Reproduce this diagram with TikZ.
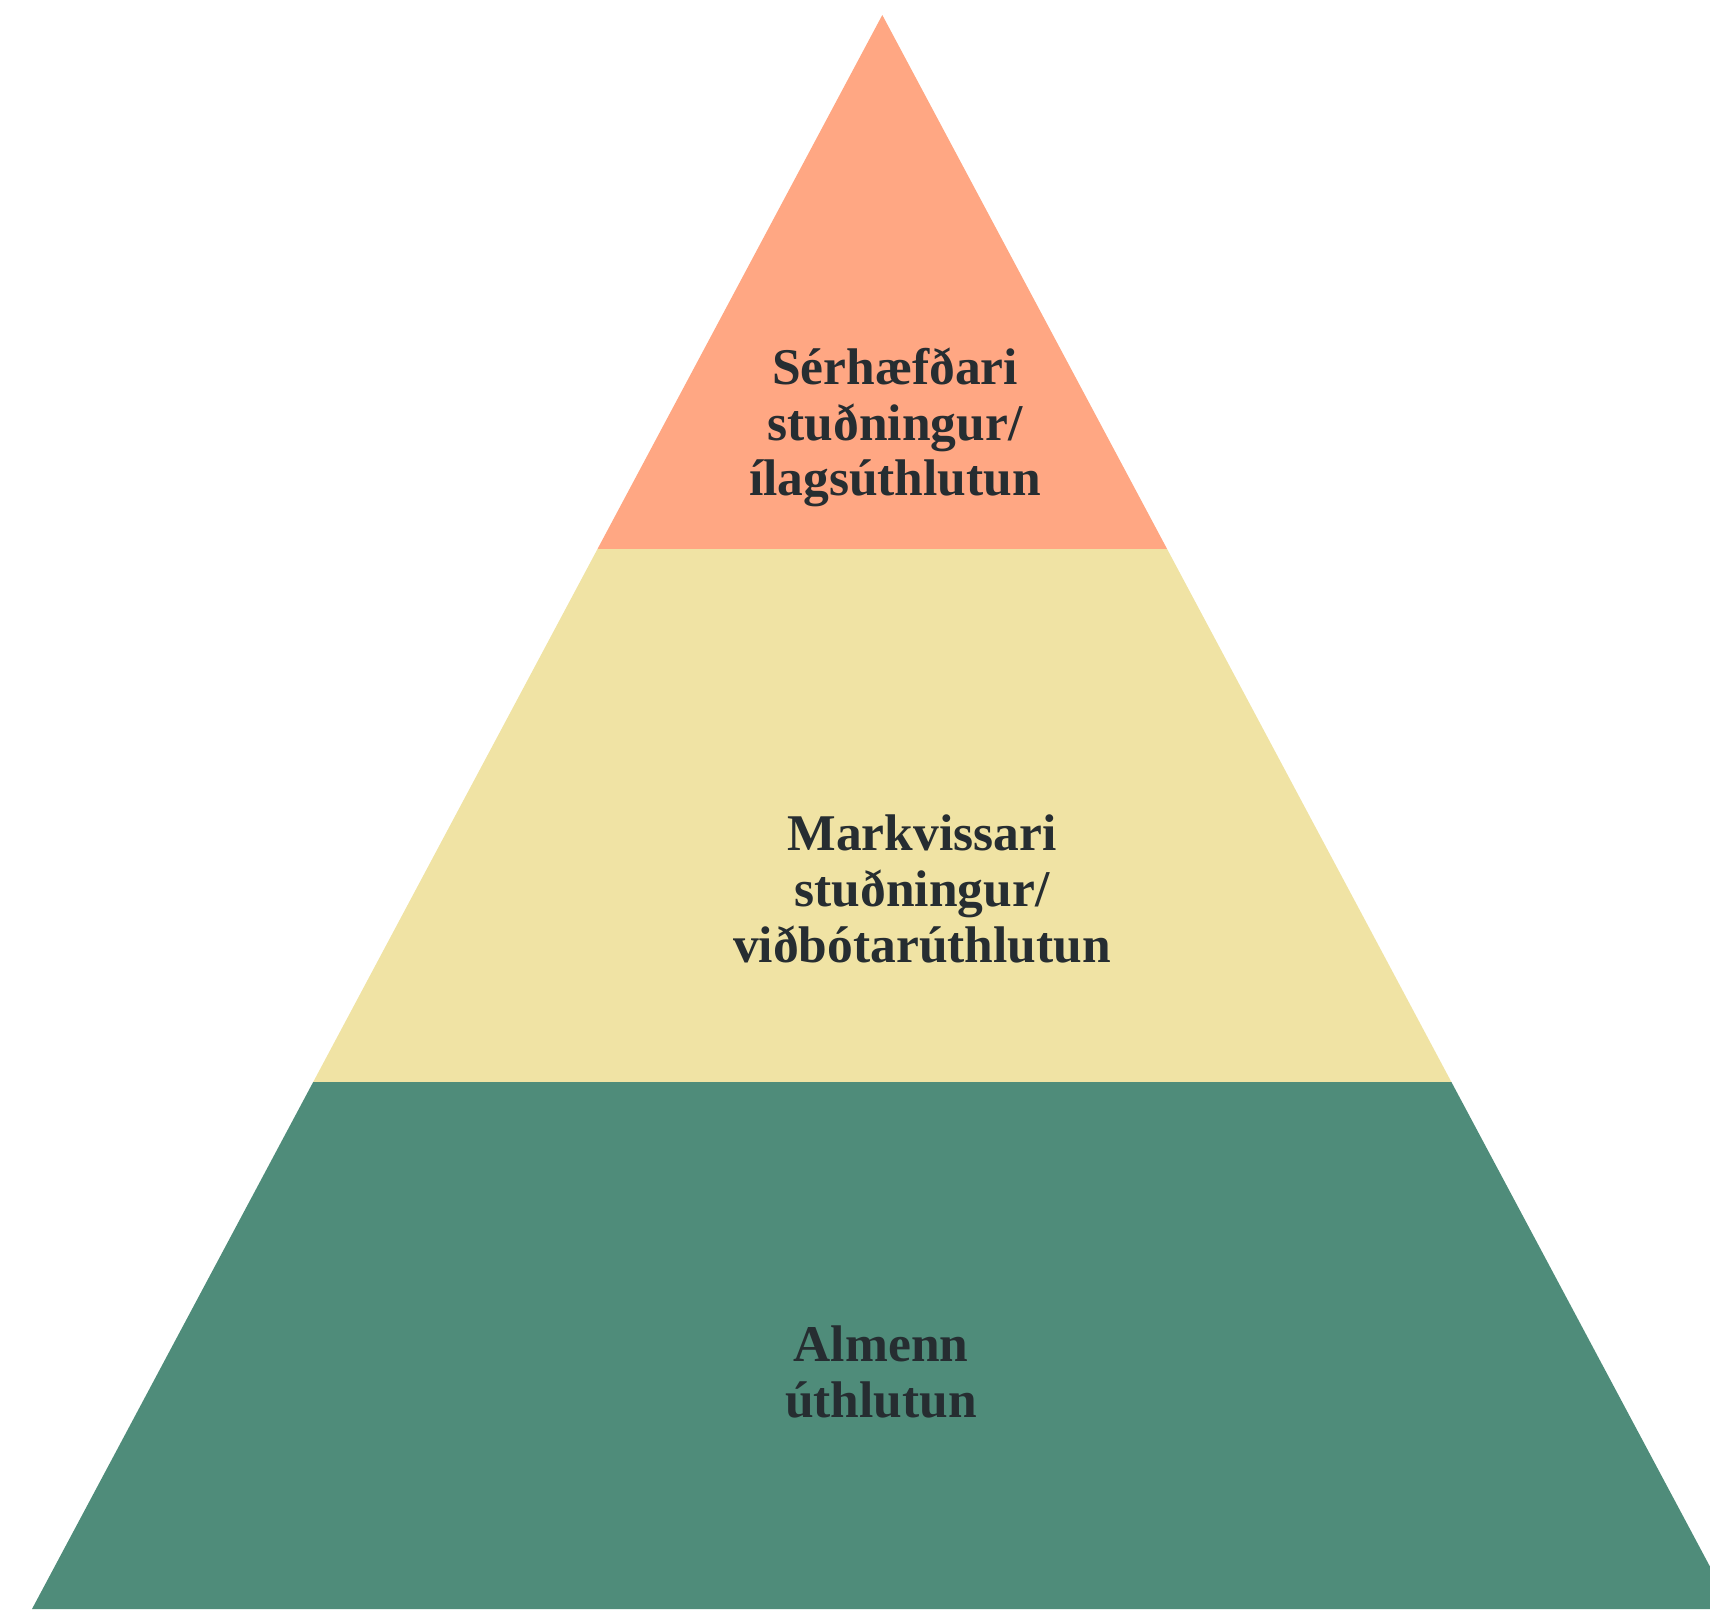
\documentclass[tikz,border=0pt]{standalone}
\usepackage{fontspec}
\setmainfont{Liberation Serif}
\definecolor{topc}{HTML}{FFA783}
\definecolor{midc}{HTML}{F0E3A4}
\definecolor{botc}{HTML}{4F8C7A}
\definecolor{txtc}{HTML}{262D31}
\tikzset{
  lbl/.style={anchor=base, inner sep=0pt, text=txtc, font=\fontsize{51.5}{55}\selectfont\bfseries}
}
\begin{document}
\begin{tikzpicture}[x=1pt,y=-1pt]
\useasboundingbox (0,0) rectangle (1710,1609);
\clip (0,0) rectangle (1710,1609);
\fill[topc] (882.3,15) -- (1167.1,549) -- (597.5,549) -- cycle;
\fill[midc] (597.5,549) -- (1167.1,549) -- (1451.4,1082) -- (313.2,1082) -- cycle;
\fill[botc] (313.2,1082) -- (1451.4,1082) -- (1732.6,1609) -- (32,1609) -- cycle;
\node[lbl] (t1) at (895,384) {Sérhæfðari};
\node[lbl] (t2) at (895,440) {stuðningur/};
\node[lbl] (t3) at (895,495) {ílagsúthlutun};
\node[lbl] (m1) at (922,850) {Markvissari};
\node[lbl] (m2) at (922,906) {stuðningur/};
\node[lbl] (m3) at (922,962) {viðbótarúthlutun};
\node[lbl] (b1) at (881,1361) {Almenn};
\node[lbl] (b2) at (881,1417) {úthlutun};
\end{tikzpicture}
\end{document}
